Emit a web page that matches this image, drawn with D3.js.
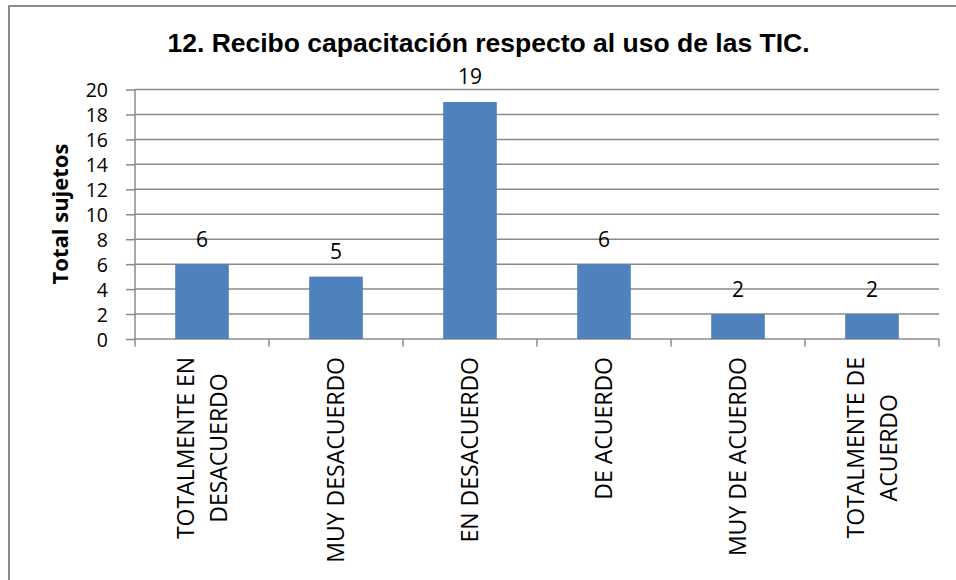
<!DOCTYPE html>
<html>
<head>
<meta charset="utf-8">
<script src="https://cdn.jsdelivr.net/npm/d3@7"></script>
<style>
    html, body { margin: 0; padding: 0; background: #fff; }
    svg { display: block; }
    .grid-line { stroke: #8a8a8a; stroke-width: 1.5; }
    .axis-line { stroke: #8a8a8a; stroke-width: 1.5; }
    .title-text { font-family: 'Liberation Sans', Arial, sans-serif; font-weight: bold; font-size: 26.5px; fill: #000; }
    .y-title { font-family: 'Open Sans', sans-serif; font-weight: bold; font-size: 22px; fill: #000; }
    .tick-text { font-family: 'Open Sans', sans-serif; font-size: 19.5px; fill: #000; }
    .value-text { font-family: 'Open Sans', sans-serif; font-size: 21px; fill: #000; }
    .cat-text { font-family: 'Open Sans', sans-serif; font-size: 23px; fill: #000; }
</style>
</head>
<body>
<svg id="svg"></svg>
<script>
const categories = [
    ['TOTALMENTE EN', 'DESACUERDO'],
    ['MUY DESACUERDO'],
    ['EN DESACUERDO'],
    ['DE ACUERDO'],
    ['MUY DE ACUERDO'],
    ['TOTALMENTE DE', 'ACUERDO']
];
const values = [6, 5, 19, 6, 2, 2];
const yTicks = [0, 2, 4, 6, 8, 10, 12, 14, 16, 18, 20];
const titleText = '12. Recibo capacitación respecto al uso de las TIC.';
const yTitleText = 'Total sujetos';

const width = 956, height = 580;
const plot = {left: 135, right: 939, top: 89.5, bottom: 339};

const svg = d3.select('#svg')
    .attr('width', width)
    .attr('height', height);

// outer frame (only top and left edges visible)
svg.append('path')
    .attr('d', 'M9,580 L9,6 L956,6')
    .attr('fill', 'none')
    .attr('stroke', '#8a8a8a')
    .attr('stroke-width', 2);

const keys = categories.map(d => d.join(' '));

const xScale = d3.scaleBand()
    .domain(keys)
    .range([plot.left, plot.right])
    .paddingInner(0.6)
    .paddingOuter(0.3);

const yScale = d3.scaleLinear()
    .domain([0, 20])
    .range([plot.bottom, plot.top]);

// y ticks + labels
const yAxis = d3.axisLeft(yScale)
    .tickValues(yTicks)
    .tickSize(9)
    .tickPadding(18);

const domYAxis = svg.append('g')
    .attr('transform', 'translate(' + plot.left + ',0)')
    .call(yAxis);
domYAxis.select('.domain').remove();
domYAxis.selectAll('.tick line').attr('class', 'axis-line');
domYAxis.selectAll('.tick text')
    .attr('class', 'tick-text')
    .attr('dy', '0.36em');

// horizontal grid lines
svg.append('g').selectAll('line')
    .data(yTicks)
    .join('line')
    .attr('class', 'grid-line')
    .attr('x1', plot.left)
    .attr('x2', plot.right)
    .attr('y1', d => yScale(d))
    .attr('y2', d => yScale(d));

// y axis line
svg.append('line')
    .attr('class', 'axis-line')
    .attr('x1', plot.left).attr('x2', plot.left)
    .attr('y1', plot.top).attr('y2', plot.bottom);

// category ticks at band boundaries
const step = xScale.step();
const boundaries = d3.range(keys.length + 1).map(i => plot.left + i * step);
svg.append('g').selectAll('line')
    .data(boundaries)
    .join('line')
    .attr('class', 'axis-line')
    .attr('x1', d => d).attr('x2', d => d)
    .attr('y1', plot.bottom).attr('y2', plot.bottom + 7.5);

// bars
svg.append('g').selectAll('rect')
    .data(values)
    .join('rect')
    .attr('x', (d, i) => xScale(keys[i]))
    .attr('y', d => yScale(d))
    .attr('width', xScale.bandwidth())
    .attr('height', d => yScale(0) - yScale(d))
    .attr('fill', '#4f81bd');

// value labels
svg.append('g').selectAll('text')
    .data(values)
    .join('text')
    .attr('class', 'value-text')
    .attr('text-anchor', 'middle')
    .attr('x', (d, i) => xScale(keys[i]) + xScale.bandwidth() / 2)
    .attr('y', d => yScale(d) - 17.5)
    .text(d => d);

// category labels, rotated, lines centred on the longest one
const lineGap = 33;
const capHalf = 8.2;
const catGroups = svg.append('g').selectAll('g')
    .data(categories)
    .join('g');

catGroups.each(function(lines, i) {
    const g = d3.select(this);
    const cx = xScale(keys[i]) + xScale.bandwidth() / 2;
    const texts = g.selectAll('text')
        .data(lines)
        .join('text')
        .attr('class', 'cat-text')
        .attr('text-anchor', 'middle')
        .attr('x', 0)
        .attr('y', (d, j) => (j - (lines.length - 1) / 2) * lineGap + capHalf)
        .text(d => d);
    let maxLen = 0;
    texts.each(function() { maxLen = Math.max(maxLen, this.getComputedTextLength()); });
    g.attr('transform', 'translate(' + cx + ',' + (357 + maxLen / 2) + ') rotate(-90)');
});

// y axis title
svg.append('text')
    .attr('class', 'y-title')
    .attr('text-anchor', 'middle')
    .attr('transform', 'translate(68,214) rotate(-90)')
    .text(yTitleText);

// chart title
svg.append('text')
    .attr('class', 'title-text')
    .attr('text-anchor', 'middle')
    .attr('x', 488.5)
    .attr('y', 52)
    .text(titleText);
</script>
</body>
</html>
